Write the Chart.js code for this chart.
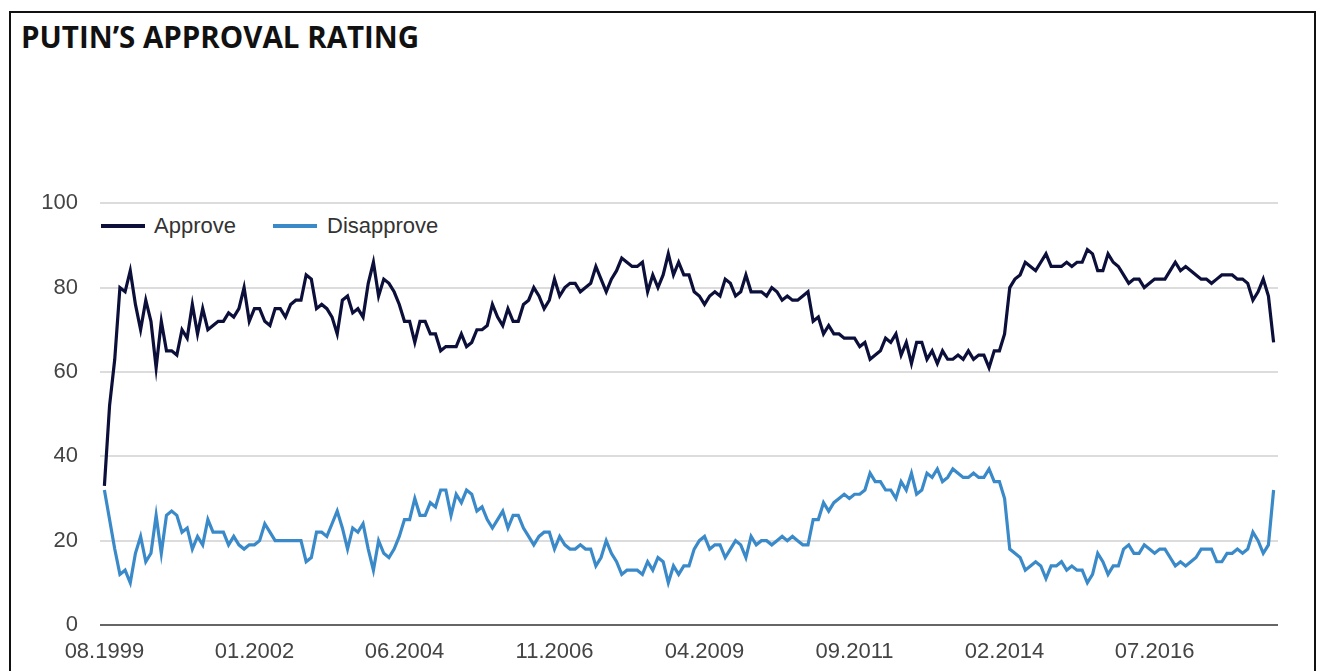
<!DOCTYPE html>
<html lang="en">
<head>
    <meta charset="UTF-8">
    <meta name="viewport" content="width=device-width, initial-scale=1.0">
    <title>Putin's approval rating</title>
    <script src="https://cdn.jsdelivr.net/npm/chart.js"></script>
    <style>
        body {
            margin: 0;
            padding: 0;
            width: 1322px;
            height: 671px;
            overflow: hidden;
            position: relative;
            background-color: #fff;
            font-family: "Liberation Sans", Arial, sans-serif;
        }
        .frame {
            position: absolute;
            left: 9px;
            top: 11px;
            width: 1303px;
            height: 700px;
            border: 2px solid #111;
        }
        h1 {
            position: absolute;
            left: 21px;
            top: 22px;
            margin: 0;
            font-family: "Open Sans", sans-serif;
            font-weight: 700;
            font-size: 29.5px;
            line-height: 29.5px;
            color: #111;
        }
        .legend-swatch {
            position: absolute;
            width: 44px;
            height: 4px;
        }
        .legend-text {
            position: absolute;
            font-size: 22px;
            line-height: 22px;
            color: #333;
        }
        .chart-box {
            position: absolute;
            left: 0;
            top: 168px;
            width: 1322px;
            height: 503px;
        }
    </style>
</head>
<body>
    <div class="frame"></div>
    <h1>PUTIN’S APPROVAL RATING</h1>
    <div id="legend"></div>
    <div class="chart-box"><canvas id="chart"></canvas></div>

    <script>
        // monthly survey, first point 08.1999
        const startYear = 1999;
        const startMonth = 8;
        const tickLabels = ['08.1999', '01.2002', '06.2004', '11.2006', '04.2009', '09.2011', '02.2014', '07.2016'];

        const approve = [
            33, 52, 63, 80, 79, 84, 76, 70, 77, 72, 61, 72, 65, 65, 64, 70, 68, 76, 69, 75,
            70, 71, 72, 72, 74, 73, 75, 80, 72, 75, 75, 72, 71, 75, 75, 73, 76, 77, 77, 83,
            82, 75, 76, 75, 73, 69, 77, 78, 74, 75, 73, 81, 86, 78, 82, 81, 79, 76, 72, 72,
            67, 72, 72, 69, 69, 65, 66, 66, 66, 69, 66, 67, 70, 70, 71, 76, 73, 71, 75, 72,
            72, 76, 77, 80, 78, 75, 77, 82, 78, 80, 81, 81, 79, 80, 81, 85, 82, 79, 82, 84,
            87, 86, 85, 85, 86, 79, 83, 80, 83, 88, 83, 86, 83, 83, 79, 78, 76, 78, 79, 78,
            82, 81, 78, 79, 83, 79, 79, 79, 78, 80, 79, 77, 78, 77, 77, 78, 79, 72, 73, 69,
            71, 69, 69, 68, 68, 68, 66, 67, 63, 64, 65, 68, 67, 69, 64, 67, 62, 67, 67, 63,
            65, 62, 65, 63, 63, 64, 63, 65, 63, 64, 64, 61, 65, 65, 69, 80, 82, 83, 86, 85,
            84, 86, 88, 85, 85, 85, 86, 85, 86, 86, 89, 88, 84, 84, 88, 86, 85, 83, 81, 82,
            82, 80, 81, 82, 82, 82, 84, 86, 84, 85, 84, 83, 82, 82, 81, 82, 83, 83, 83, 82,
            82, 81, 77, 79, 82, 78, 67
        ];

        const disapprove = [
            32, 25, 18, 12, 13, 10, 17, 21, 15, 17, 26, 17, 26, 27, 26, 22, 23, 18, 21, 19,
            25, 22, 22, 22, 19, 21, 19, 18, 19, 19, 20, 24, 22, 20, 20, 20, 20, 20, 20, 15,
            16, 22, 22, 21, 24, 27, 23, 18, 23, 22, 24, 18, 13, 20, 17, 16, 18, 21, 25, 25,
            30, 26, 26, 29, 28, 32, 32, 26, 31, 29, 32, 31, 27, 28, 25, 23, 25, 27, 23, 26,
            26, 23, 21, 19, 21, 22, 22, 18, 21, 19, 18, 18, 19, 18, 18, 14, 16, 20, 17, 15,
            12, 13, 13, 13, 12, 15, 13, 16, 15, 10, 14, 12, 14, 14, 18, 20, 21, 18, 19, 19,
            16, 18, 20, 19, 16, 21, 19, 20, 20, 19, 20, 21, 20, 21, 20, 19, 19, 25, 25, 29,
            27, 29, 30, 31, 30, 31, 31, 32, 36, 34, 34, 32, 32, 30, 34, 32, 36, 31, 32, 36,
            35, 37, 34, 35, 37, 36, 35, 35, 36, 35, 35, 37, 34, 34, 30, 18, 17, 16, 13, 14,
            15, 14, 11, 14, 14, 15, 13, 14, 13, 13, 10, 12, 17, 15, 12, 14, 14, 18, 19, 17,
            17, 19, 18, 17, 18, 18, 16, 14, 15, 14, 15, 16, 18, 18, 18, 15, 15, 17, 17, 18,
            17, 18, 22, 20, 17, 19, 32
        ];

        const seriesNames = ['Approve', 'Disapprove'];
        const seriesColors = ['#0b0f3a', '#3a8ac9'];

        // month labels MM.YYYY
        const months = [];
        for (let i = 0; i < approve.length; i++) {
            const m = (startMonth - 1 + i) % 12 + 1;
            const y = startYear + Math.floor((startMonth - 1 + i) / 12);
            months.push(String(m).padStart(2, '0') + '.' + y);
        }

        // legend (drawn as html inside the plot, under the 100 line)
        const legendPos = [{ sw: 101, tx: 154 }, { sw: 273, tx: 327 }];
        const legend = document.getElementById('legend');
        seriesNames.forEach((name, k) => {
            const sw = document.createElement('div');
            sw.className = 'legend-swatch';
            sw.style.left = legendPos[k].sw + 'px';
            sw.style.top = '224px';
            sw.style.backgroundColor = seriesColors[k];
            legend.appendChild(sw);
            const tx = document.createElement('div');
            tx.className = 'legend-text';
            tx.style.left = legendPos[k].tx + 'px';
            tx.style.top = '215px';
            tx.textContent = name;
            legend.appendChild(tx);
        });

        const tickFont = { family: '"Liberation Sans", Arial, sans-serif', size: 22 };

        new Chart(document.getElementById('chart'), {
            type: 'line',
            data: {
                datasets: [approve, disapprove].map((values, k) => ({
                    label: seriesNames[k],
                    data: values.map((v, i) => ({ x: i, y: v })),
                    borderColor: seriesColors[k],
                    backgroundColor: seriesColors[k],
                    borderWidth: 3.2,
                    pointRadius: 0,
                    tension: 0
                }))
            },
            options: {
                responsive: true,
                maintainAspectRatio: false,
                animation: false,
                layout: { padding: { top: 10, right: 44, bottom: 0, left: 0 } },
                plugins: {
                    legend: { display: false },
                    tooltip: { enabled: false }
                },
                scales: {
                    x: {
                        type: 'linear',
                        min: -0.85,
                        max: approve.length - 1 + 0.85,
                        grid: { display: false, drawTicks: false },
                        border: { display: false },
                        afterBuildTicks: (scale) => {
                            scale.ticks = tickLabels.map(l => ({ value: months.indexOf(l) }));
                        },
                        afterFit: (scale) => { scale.height = 46; },
                        ticks: {
                            autoSkip: false,
                            maxRotation: 0,
                            padding: 14,
                            color: '#444',
                            font: tickFont,
                            callback: (value) => months[value]
                        }
                    },
                    y: {
                        min: 0,
                        max: 100,
                        grid: {
                            drawTicks: false,
                            lineWidth: 2,
                            color: (ctx) => ctx.tick && ctx.tick.value === 0 ? '#666' : '#dcdcdc'
                        },
                        border: { display: false },
                        afterFit: (scale) => { scale.width = 100; },
                        ticks: {
                            stepSize: 20,
                            padding: 22,
                            color: '#444',
                            font: tickFont
                        }
                    }
                }
            }
        });
    </script>
</body>
</html>
